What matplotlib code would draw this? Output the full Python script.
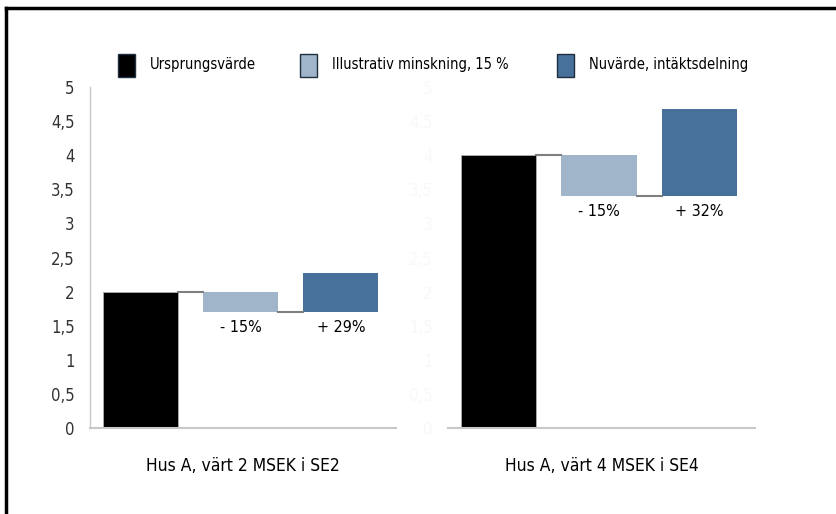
import matplotlib
matplotlib.use("Agg")
import matplotlib.pyplot as plt
from matplotlib.patches import Rectangle
from matplotlib.lines import Line2D

plt.rcParams['font.family'] = ['DejaVu Sans']
plt.rcParams['font.stretch'] = 'condensed'

# data
series = ['Ursprungsvärde', 'Illustrativ minskning, 15 %', 'Nuvärde, intäktsdelning']
colors = ['#000000', '#a0b5ca', '#47719a']
titles = ['Hus A, värt 2 MSEK i SE2', 'Hus A, värt 4 MSEK i SE4']
original = [2.0, 4.0]
decrease = [0.15, 0.15]
increase = [0.29, 0.32]
dec_labels = ['- 15%', '- 15%']
inc_labels = ['+ 29%', '+ 32%']
yticks = [0, 0.5, 1, 1.5, 2, 2.5, 3, 3.5, 4, 4.5, 5]
ytick_labels = ['0', '0,5', '1', '1,5', '2', '2,5', '3', '3,5', '4', '4,5', '5']

fig = plt.figure(figsize=(8.36, 5.14), dpi=100)
axes_pos = [[0.1077, 0.1673, 0.366, 0.6634], [0.5359, 0.1673, 0.367, 0.6634]]
width = 0.75
grey = '#c8c8c8'

for i in range(2):
    ax = fig.add_axes(axes_pos[i])
    v0 = original[i]
    v1 = v0 * (1 - decrease[i])
    v2 = v1 + v0 * increase[i]
    ax.bar(0, v0, width, color=colors[0], edgecolor='#b0b0b0', linewidth=0.6)
    ax.bar(1, v0 - v1, width, bottom=v1, color=colors[1])
    ax.bar(2, v2 - v1, width, bottom=v1, color=colors[2])
    # connectors
    ax.plot([width / 2, 1 - width / 2], [v0, v0], color='#7f7f7f', lw=1.5)
    ax.plot([1 + width / 2, 2 - width / 2], [v1, v1], color='#7f7f7f', lw=1.5)
    ax.annotate(dec_labels[i], (1, v1), xytext=(0, -6), textcoords='offset points',
                ha='center', va='top', fontsize=11.5)
    ax.annotate(inc_labels[i], (2, v1), xytext=(0, -6), textcoords='offset points',
                ha='center', va='top', fontsize=11.5)
    ax.set_xlim(-0.5, 2.55)
    ax.set_ylim(0, 5)
    ax.set_yticks(yticks)
    ax.set_yticklabels(ytick_labels, fontsize=12, color='#333333')
    ax.set_xticks([])
    ax.tick_params(axis='y', length=0, pad=11)
    for s in ['top', 'right']:
        ax.spines[s].set_visible(False)
    ax.spines['bottom'].set_color(grey)
    ax.spines['bottom'].set_linewidth(1.5)
    ax.spines['left'].set_color(grey)
    ax.spines['left'].set_linewidth(1.0)
    if i == 1:
        ax.spines['left'].set_visible(False)
        ax.tick_params(axis='y', labelcolor='#f8f8f8')
    ax.set_xlabel(titles[i], fontsize=12.5, labelpad=21)

# legend
leg_x = [118, 300, 557]
for x, lab, c in zip(leg_x, series, colors):
    fig.patches.append(Rectangle((x / 836, 1 - 77 / 514), 17 / 836, 23 / 514,
                                 transform=fig.transFigure, facecolor=c,
                                 edgecolor='#1f2f3f', linewidth=1.0))
    fig.text((x + 32) / 836, 1 - 65 / 514, lab, fontsize=10.5, va='center', ha='left')

# frame
fig.add_artist(Line2D([6 / 836, 6 / 836], [0, 1 - 8 / 514], transform=fig.transFigure,
                      color='black', lw=2.5))
fig.add_artist(Line2D([6 / 836, 1], [1 - 8 / 514, 1 - 8 / 514], transform=fig.transFigure,
                      color='black', lw=2.5))

fig.savefig('out.png', dpi=100)
